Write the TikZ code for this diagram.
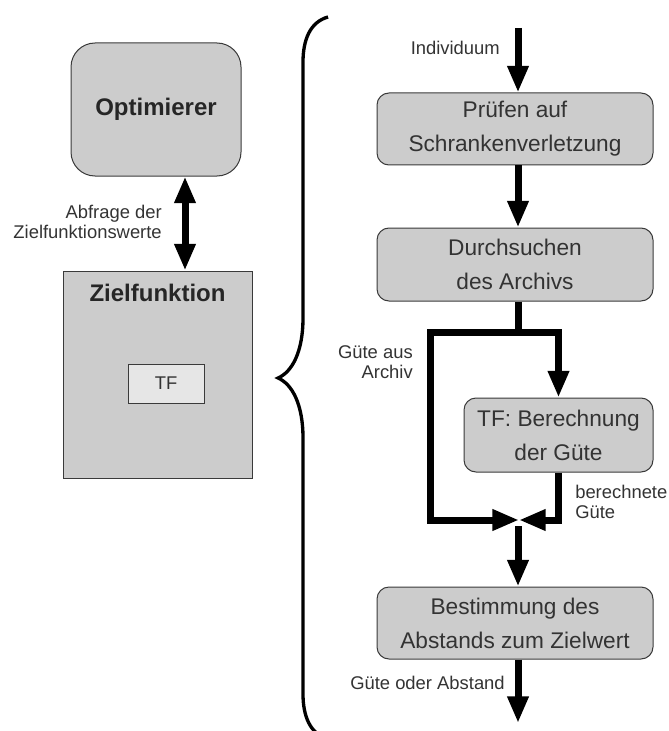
\documentclass[tikz,border=0pt]{standalone}
\usepackage{fontspec}
\setmainfont{Liberation Sans}
\usetikzlibrary{arrows.meta}

\definecolor{boxgray}{HTML}{CCCCCC}
\definecolor{tfgray}{HTML}{E6E6E6}
\definecolor{edgegray}{HTML}{3A3A3A}
\definecolor{txtgray}{HTML}{333333}

\tikzset{
  box/.style={draw=edgegray, line width=0.75pt, fill=boxgray, text=txtgray,
    rounded corners=9pt, align=center, font=\fontsize{17}{25.5}\selectfont},
  lbl/.style={inner sep=0pt, text=txtgray, font=\fontsize{13.8}{15}\selectfont},
  flow/.style={line width=5.25pt, -{Triangle[width=15pt,length=20pt]}},
  bigtitle/.style={inner sep=0pt, text=black!85, font=\bfseries\fontsize{18}{22}\selectfont}
}

\begin{document}
\begin{tikzpicture}[x=0.75pt,y=-0.75pt]
  \useasboundingbox (0,0) rectangle (668,731);
  % linke Seite
  \node (opt) at (156,109.5) [box, rounded corners=18pt, minimum width=127.5pt,
    minimum height=99.75pt, bigtitle, inner sep=3pt] {Optimierer};
  \node (zf) at (157.5,374.5) [box, sharp corners, minimum width=141.75pt,
    minimum height=155.25pt] {};
  \node (zftitle) at (157.5,293) [bigtitle] {Zielfunktion};
  \node (tfz) at (166,383.5) [box, sharp corners, fill=tfgray, minimum width=57pt,
    minimum height=29.25pt, font=\fontsize{13.8}{15}\selectfont] {TF};
  \coordinate (ax1) at (185,0);
  \draw[line width=5.25pt, {Triangle[width=15pt,length=20pt]}-{Triangle[width=15pt,length=20pt]}]
    (opt.south -| ax1) -- (zf.north -| ax1);
  \node (abfr) at (162,222) [lbl, anchor=east, align=right] {Abfrage der\\Zielfunktionswerte};
  % Klammer
  \draw[line width=2.5pt] (328,17) .. controls (310,22) and (303,40) .. (303,62)
    -- (303,318) .. controls (303,352) and (292,372) .. (278,378)
    .. controls (292,384) and (303,404) .. (303,438)
    -- (303,694) .. controls (303,716) and (310,734) .. (328,739);
  % rechte Seite
  \coordinate (ax) at (518,0);
  \coordinate (in) at (518,28);
  \node (pruef) at (515,129) [box, minimum width=207pt, minimum height=54pt]
    {Prüfen auf\\Schrankenverletzung};
  \node (durch) at (515,264.5) [box, minimum width=207pt, minimum height=54.75pt]
    {Durchsuchen\\des Archivs};
  \node (tfb) at (558.5,435) [box, minimum width=141.75pt, minimum height=55.5pt]
    {TF: Berechnung\\der Güte};
  \node (best) at (515,623) [box, minimum width=207pt, minimum height=54pt]
    {Bestimmung des\\Abstands zum Zielwert};
  \coordinate (split) at (518,332);
  \coordinate (gl) at (430,332);
  \coordinate (merge) at (519,520);
  \coordinate (mout) at (518,526);
  \coordinate (out) at (518,723);
  \draw[flow] (in) -- (pruef.north -| ax);
  \draw[flow] (pruef.south -| ax) -- (durch.north -| ax);
  \draw[line width=5.25pt] (durch.south -| ax) -- (split);
  \draw[flow] (split) -| (tfb.north);
  \draw[flow] (split) -- (gl) |- (merge);
  \draw[flow] (tfb.south) |- (merge);
  \draw[flow] (mout) -- (best.north -| ax);
  \draw[flow] (best.south -| ax) -- (out);
  \node (indiv) at (500,48) [lbl, anchor=east] {Individuum};
  \node (archiv) at (413,362) [lbl, anchor=east, align=right] {Güte aus\\Archiv};
  \node (berech) at (575,502) [lbl, anchor=west, align=left] {berechnete\\Güte};
  \node (ergeb) at (505,683) [lbl, anchor=east] {Güte oder Abstand};
\end{tikzpicture}
\end{document}
